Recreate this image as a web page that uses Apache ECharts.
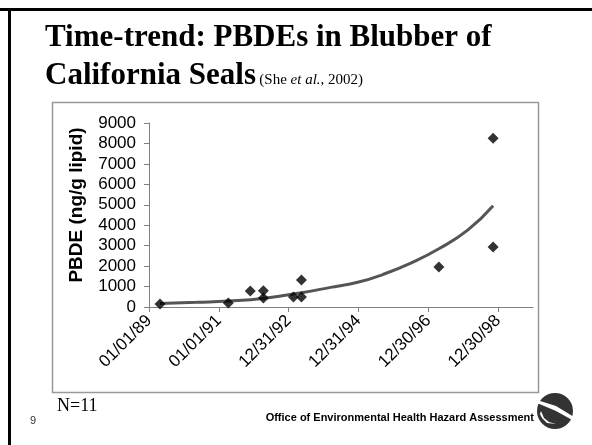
<!DOCTYPE html>
<html>
<head>
<meta charset="utf-8">
<script src="https://cdn.jsdelivr.net/npm/echarts@6/dist/echarts.min.js"></script>
<style>
html,body{margin:0;padding:0;background:#fff;}
#chart{width:592px;height:445px;}
</style>
</head>
<body>
<div id="chart"></div>
<script>
// Tick labels of the x axis (dates two years = 730 days apart, counted from 01/01/89)
const xTickLabels = ['01/01/89', '01/01/91', '12/31/92', '12/31/94', '12/30/96', '12/30/98'];
const xTickStepDays = 730;
// Samples: days after 01/01/89, PBDE (ng/g lipid)
const sampleDays = [115, 829, 1059, 1196, 1196, 1510, 1594, 1594, 3031, 3598, 3598];
const sampleValues = [150, 200, 780, 800, 440, 490, 490, 1320, 1960, 2940, 8250];
// Trend curve
const trendDays = [115, 500, 829, 1206, 1594, 1900, 2192, 2450, 2737, 3031, 3335, 3598];
const trendValues = [170, 230, 290, 430, 700, 960, 1220, 1600, 2150, 2850, 3770, 4950];
// Y axis
const yMin = 0, yMax = 9000, yStep = 1000;

const chart = echarts.init(document.getElementById('chart'), null, {renderer: 'canvas'});
const tickVals = xTickLabels.map((_, i) => i * xTickStepDays);
const sans = '"Liberation Sans", Arial, sans-serif';
const serif = '"Liberation Serif", "Times New Roman", serif';

const option = {
  animation: false,
  grid: {left: 149, top: 123, width: 384, height: 184},
  xAxis: {
    type: 'value', min: 0, max: 4015, interval: xTickStepDays,
    splitLine: {show: false},
    axisLine: {lineStyle: {color: '#808080', width: 1}},
    axisTick: {length: 5, lineStyle: {color: '#808080'}, customValues: tickVals},
    axisLabel: {
      customValues: tickVals, rotate: 45, margin: 11,
      color: '#000', fontFamily: sans, fontSize: 17,
      formatter: v => xTickLabels[Math.round(v / xTickStepDays)] || ''
    }
  },
  yAxis: {
    type: 'value', min: yMin, max: yMax, interval: yStep,
    splitLine: {show: false},
    axisLine: {show: true, lineStyle: {color: '#808080', width: 1}},
    axisTick: {show: true, length: 5, lineStyle: {color: '#808080'}},
    axisLabel: {color: '#000', fontFamily: sans, fontSize: 17, margin: 13, formatter: v => String(v)}
  },
  series: [
    {
      type: 'line', data: trendDays.map((d, i) => [d, trendValues[i]]),
      smooth: true, showSymbol: false, z: 2,
      lineStyle: {color: '#555', width: 3}
    },
    {
      type: 'scatter', data: sampleDays.map((d, i) => [d, sampleValues[i]]),
      symbol: 'diamond', symbolSize: 11, z: 3,
      itemStyle: {color: '#000'}
    }
  ],
  graphic: [
    {type: 'rect', shape: {x: 0, y: 8, width: 592, height: 3}, style: {fill: '#000'}},
    {type: 'rect', shape: {x: 8, y: 8, width: 3, height: 437}, style: {fill: '#000'}},
    {type: 'rect', z: -1, shape: {x: 52.5, y: 102.5, width: 486, height: 290}, style: {fill: 'none', stroke: '#999', lineWidth: 1.5}},
    {type: 'text', x: 77, y: 205, rotation: Math.PI / 2, style: {text: 'PBDE (ng/g lipid)', font: 'bold 19px ' + sans, fill: '#000', align: 'center', verticalAlign: 'middle'}},
    {type: 'text', x: 45, y: 22, style: {text: 'Time-trend: PBDEs in Blubber of', font: 'bold 31px ' + serif, fill: '#000'}},
    {type: 'text', x: 45, y: 60, style: {
      text: '{a|California Seals} {b|(She }{c|et al.}{b|, 2002)}',
      rich: {
        a: {font: 'bold 31px ' + serif, fill: '#000', verticalAlign: 'bottom'},
        b: {font: '15px ' + serif, fill: '#000', verticalAlign: 'bottom', padding: [0,0,3,0]},
        c: {font: 'italic 15px ' + serif, fill: '#000', verticalAlign: 'bottom', padding: [0,0,3,0]}
      }
    }},
    {type: 'text', x: 57, y: 397, style: {text: 'N=11', font: '18px ' + serif, fill: '#000'}},
    {type: 'text', x: 30, y: 415, style: {text: '9', font: '11px ' + sans, fill: '#333'}},
    {type: 'text', x: 534, y: 412, style: {text: 'Office of Environmental Health Hazard Assessment', font: 'bold 11px ' + sans, fill: '#000', align: 'right'}},
    {type: 'circle', shape: {cx: 555, cy: 411, r: 18}, style: {fill: '#333'}},
    {type: 'polygon', shape: {points: [[537,400],[556,406],[574,417],[574,421],[556,411],[537,403]]}, style: {fill: '#fff'}},
    {type: 'polygon', shape: {points: [[541,411],[544,418],[549,422],[556,424],[547,423],[542,418],[540,414]]}, style: {fill: '#fff'}}
  ]
};
chart.setOption(option);
</script>
</body>
</html>
